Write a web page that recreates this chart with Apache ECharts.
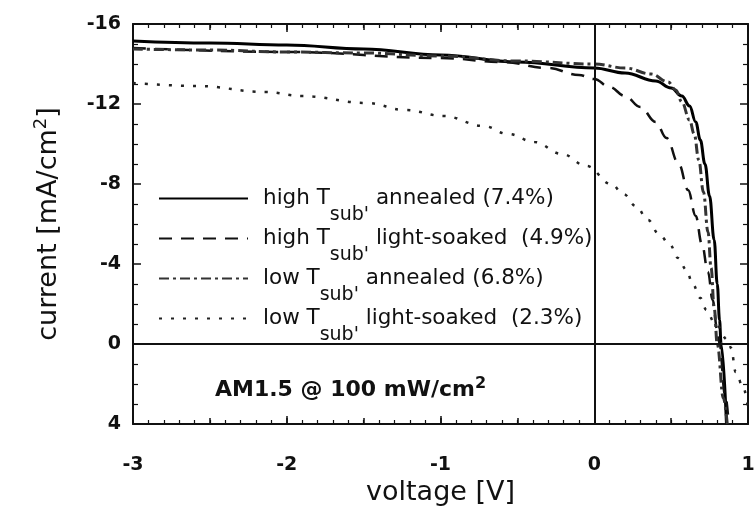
<!DOCTYPE html>
<html>
<head>
<meta charset="utf-8">
<script src="https://cdn.jsdelivr.net/npm/echarts@6/dist/echarts.min.js"></script>
<style>
html, body { margin: 0; padding: 0; background: #fff; }
#chart { width: 755px; height: 506px; }
</style>
</head>
<body>
<div id="chart"></div>
<script>
// curve names (legend)
var names = [
	"high Tsub' annealed (7.4%)",
	"high Tsub' light-soaked  (4.9%)",
	"low Tsub' annealed (6.8%)",
	"low Tsub' light-soaked  (2.3%)"
];

// high Tsub annealed
var vHighAnn = [-3, -2.5, -2, -1.5, -1, -0.5, 0, 0.2, 0.4, 0.5, 0.57, 0.62, 0.66, 0.69, 0.72, 0.75, 0.78, 0.8, 0.815, 0.825, 0.86];
var jHighAnn = [-15.15, -15.05, -14.95, -14.75, -14.45, -14.1, -13.8, -13.55, -13.15, -12.8, -12.4, -11.9, -11.1, -10.2, -9.0, -7.4, -5.2, -3.0, -1.2, 0, 4];

// high Tsub light-soaked
var vHighLs = [-3, -2, -1, -0.6, -0.3, -0.1, 0, 0.1, 0.2, 0.3, 0.4, 0.47, 0.55, 0.61, 0.66, 0.7, 0.74, 0.77, 0.8, 0.815, 0.85, 0.875];
var jHighLs = [-14.8, -14.6, -14.3, -14.1, -13.8, -13.45, -13.25, -12.85, -12.4, -11.85, -11.1, -10.3, -9.0, -7.7, -6.4, -5.0, -3.6, -2.2, -0.7, 0, 2.5, 4];

// low Tsub annealed
var vLowAnn = [-3, -2.5, -2, -1.5, -1, -0.5, 0, 0.2, 0.37, 0.48, 0.53, 0.57, 0.62, 0.65, 0.68, 0.71, 0.74, 0.76, 0.78, 0.8, 0.84, 0.865];
var jLowAnn = [-14.75, -14.7, -14.6, -14.55, -14.4, -14.15, -14.0, -13.8, -13.5, -13.1, -12.7, -12.1, -11.2, -10.5, -9.2, -7.6, -5.6, -3.8, -1.8, 0, 2.7, 4];

// low Tsub light-soaked
var vLowLs = [-3, -2.58, -2.14, -1.9, -1.48, -1.23, -0.98, -0.72, -0.56, -0.39, -0.21, -0.05, 0.11, 0.19, 0.27, 0.35, 0.42, 0.49, 0.545, 0.6, 0.64, 0.69, 0.73, 0.78, 0.87, 0.89, 0.92, 0.97, 1.0];
var jLowLs = [-13.05, -12.9, -12.6, -12.4, -12.05, -11.7, -11.4, -10.9, -10.5, -10.1, -9.5, -8.9, -8.0, -7.5, -6.9, -6.2, -5.5, -5.0, -4.3, -3.7, -3.0, -2.3, -1.7, -1.1, -0.2, 0.2, 1.4, 2.2, 3.2];

function pairs(v, j) {
	return v.map(function (x, i) { return [x, j[i]]; });
}

var myChart = echarts.init(document.getElementById('chart'));
var FONT = '"DejaVu Sans", sans-serif';

var tickLabel = { color: '#111', fontSize: 19, fontWeight: 'bold', fontFamily: FONT };

function frameX(pos, show, interval, len, minor) {
	return {
		type: 'value', position: pos, min: -3, max: 1, interval: interval,
		axisLine: { show: show, onZero: false, lineStyle: { color: '#111', width: 2 } },
		axisTick: { show: true, inside: true, length: len, lineStyle: { color: '#111', width: 1.5 } },
		minorTick: { show: minor, splitNumber: 10, length: 4, lineStyle: { color: '#111', width: 1.2 } },
		axisLabel: { show: false },
		splitLine: { show: false }
	};
}

var option = {
	backgroundColor: '#fff',
	animation: false,
	grid: { left: 133, right: 7, top: 24, bottom: 82, containLabel: false, outerBoundsMode: 'none' },
	legend: {
		orient: 'vertical',
		left: 158,
		top: 172,
		padding: 0,
		itemWidth: 89,
		itemHeight: 14,
		itemGap: -13,
		data: names,
		itemStyle: { opacity: 0 },
		textStyle: {
			color: '#111', fontSize: 21.5, lineHeight: 22, fontFamily: FONT, padding: [0, 0, 0, 10],
			rich: { sub: { fontSize: 19, lineHeight: 19, fontFamily: FONT, color: '#111', padding: [34, 0, 0, 0] } }
		},
		formatter: function (n) { return n.replace("Tsub'", "T{sub|sub'}"); }
	},
	graphic: [{
		type: 'text',
		left: 215,
		top: 376,
		style: {
			text: 'AM1.5 @ 100 mW/cm{sup|2}',
			fill: '#111',
			font: 'bold 22px ' + FONT,
			rich: { sup: { fontSize: 16, fontWeight: 'bold', fontFamily: FONT, fill: '#111', padding: [0, 0, 12, 0] } }
		}
	}],
	xAxis: [
		{
			type: 'value', min: -3, max: 1, interval: 1,
			name: 'voltage [V]', nameLocation: 'middle', nameGap: 47,
			nameTextStyle: { color: '#111', fontSize: 27, fontFamily: FONT },
			axisLine: { onZero: false, lineStyle: { color: '#111', width: 2 } },
			axisTick: { inside: true, length: 8, lineStyle: { color: '#111', width: 1.5 } },
			minorTick: { show: true, splitNumber: 10, length: 4, lineStyle: { color: '#111', width: 1.2 } },
			axisLabel: Object.assign({ margin: 32 }, tickLabel),
			splitLine: { show: false }
		},
		frameX('top', true, 1, 8, true),
		frameX('bottom', false, 0.5, 6, false),
		frameX('top', false, 0.5, 6, false)
	],
	yAxis: [
		{
			type: 'value', inverse: true, min: -16, max: 4, interval: 4,
			name: 'current [mA/cm{sup|2}]', nameLocation: 'middle', nameGap: 67,
			nameTextStyle: {
				color: '#111', fontSize: 27, fontFamily: FONT,
				rich: { sup: { fontSize: 18, fontFamily: FONT, color: '#111', padding: [0, 0, 16, 0] } }
			},
			axisLine: { onZero: false, lineStyle: { color: '#111', width: 2 } },
			axisTick: { inside: true, length: 8, lineStyle: { color: '#111', width: 1.5 } },
			minorTick: { show: true, splitNumber: 4, length: 5, lineStyle: { color: '#111', width: 1.2 } },
			axisLabel: Object.assign({ margin: 12 }, tickLabel),
			splitLine: { show: false }
		},
		{
			type: 'value', inverse: true, min: -16, max: 4, interval: 4, position: 'right',
			axisLine: { onZero: false, lineStyle: { color: '#111', width: 2 } },
			axisTick: { inside: true, length: 8, lineStyle: { color: '#111', width: 1.5 } },
			minorTick: { show: true, splitNumber: 4, length: 5, lineStyle: { color: '#111', width: 1.2 } },
			axisLabel: { show: false },
			splitLine: { show: false }
		}
	],
	series: [
		{
			name: names[0], type: 'line', symbol: 'none', smooth: 0.4, smoothMonotone: 'x',
			data: pairs(vHighAnn, jHighAnn),
			lineStyle: { color: '#000', width: 3, type: 'solid' },
			itemStyle: { color: '#000' }
		},
		{
			name: names[1], type: 'line', symbol: 'none', smooth: 0.4, smoothMonotone: 'x',
			data: pairs(vHighLs, jHighLs),
			lineStyle: { color: '#111', width: 2.5, type: [13, 9] },
			itemStyle: { color: '#111' }
		},
		{
			name: names[2], type: 'line', symbol: 'none', smooth: 0.4, smoothMonotone: 'x',
			data: pairs(vLowAnn, jLowAnn),
			lineStyle: { color: '#333', width: 3, type: [10, 4, 3, 4] },
			itemStyle: { color: '#333' }
		},
		{
			name: names[3], type: 'line', symbol: 'none', smooth: 0.4, smoothMonotone: 'x',
			data: pairs(vLowLs, jLowLs),
			lineStyle: { color: '#222', width: 2.5, type: [3, 9] },
			itemStyle: { color: '#222' }
		},
		{
			// zero lines
			type: 'line', data: [], silent: true,
			markLine: {
				silent: true, symbol: ['none', 'none'], label: { show: false },
				lineStyle: { color: '#111', width: 2, type: 'solid' },
				data: [{ xAxis: 0 }, { yAxis: 0 }]
			}
		}
	]
};

myChart.setOption(option);
</script>
</body>
</html>
